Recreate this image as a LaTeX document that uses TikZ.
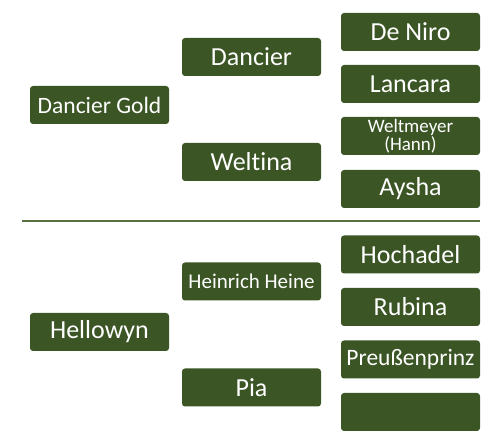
\documentclass[tikz,border=0pt]{standalone}
\usepackage{fontspec}
\setmainfont[Ligatures={NoCommon,NoContextual}]{Carlito}
\definecolor{boxgreen}{HTML}{3B5525}
\definecolor{linegreen}{HTML}{56703F}
\begin{document}
\begin{tikzpicture}[x=1pt,y=-1pt,
  box/.style={fill=boxgreen,rounded corners=3pt,text=white,minimum width=139pt,minimum height=38pt,inner sep=1pt,align=center,font=\fontsize{26}{27}\selectfont},
  prbox/.style={box,font=\fontsize{23.5}{24}\selectfont},
  smallbox/.style={box,font=\fontsize{21}{22}\selectfont},
  tinybox/.style={box,font=\fontsize{19}{17.5}\selectfont}]
\useasboundingbox (0,0) rectangle (493,443);
\node[prbox] (dg) at (99.5,105) {Dancier Gold};
\node[box] (d) at (251.5,57) {Dancier};
\node[box] (w) at (251.5,162) {Weltina};
\node[box] (dn) at (410.5,32) {De Niro};
\node[box] (l) at (410.5,84) {Lancara};
\node[tinybox] (wm) at (410.5,136) {Weltmeyer\\(Hann)};
\node[box] (a) at (410.5,189) {Aysha};
\coordinate (ls) at (22,221);
\coordinate (le) at (480,221);
\draw[linegreen,line width=2pt] (ls) -- (le);
\node[box] (hw) at (99.5,332) {Hellowyn};
\node[smallbox] (hh) at (251.5,281.5) {Heinrich Heine};
\node[box] (p) at (251.5,387.5) {Pia};
\node[box] (ho) at (410.5,254.5) {Hochadel};
\node[box] (r) at (410.5,307) {Rubina};
\node[prbox] (pp) at (410.5,359.5) {Preußenprinz};
\node[box] (e) at (410.5,412) {};
\end{tikzpicture}
\end{document}
